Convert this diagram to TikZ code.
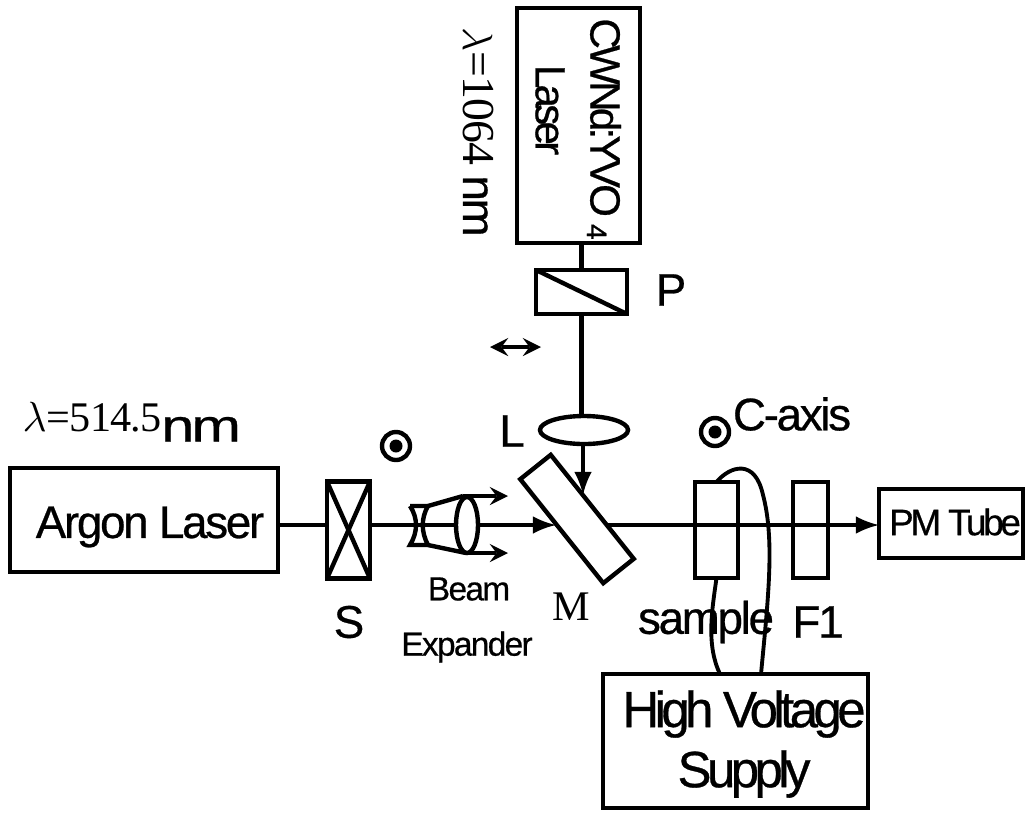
\documentclass[tikz,border=0pt]{standalone}
\usepackage{fontspec}
\setmainfont[LetterSpace=-5,FakeBold=0.6]{Liberation Sans}
\newfontfamily\tightfont[LetterSpace=-9,FakeBold=0.6]{Liberation Sans}
\newfontfamily\timesfont[LetterSpace=-2]{Liberation Serif}
\usetikzlibrary{shapes.geometric, arrows, positioning, fit, calc}

\tikzset{
    elem/.style={draw, line width=1.25pt, inner sep=0pt, outer sep=0pt},
    beam/.style={line width=1.25pt},
    wire/.style={line width=1.1pt},
    lbl/.style={inner sep=0pt, font=\fontsize{13}{15}\selectfont},
    biglbl/.style={inner sep=0pt, font=\fontsize{14.5}{16}\selectfont},
    smalllbl/.style={inner sep=0pt, font=\fontsize{9.5}{11}\selectfont},
    axisring/.style={draw, circle, line width=1.25pt, minimum size=28pt*0.2845, inner sep=0pt},
}

\begin{document}
\begin{tikzpicture}[x=0.01cm, y=-0.01cm]
    \useasboundingbox (0,0) rectangle (1025,812);

    % boxes
    \node[elem, minimum width=268*0.2845pt, minimum height=104*0.2845pt] (argon) at (144,520) {};
    \node[elem, minimum width=43*0.2845pt, minimum height=97*0.2845pt] (shutter) at (348.5,530) {};
    \node[elem, minimum width=123*0.2845pt, minimum height=235*0.2845pt] (ndlaser) at (578.5,125.5) {};
    \node[elem, minimum width=91*0.2845pt, minimum height=44*0.2845pt] (pol) at (581.5,292) {};
    \node[elem, ellipse, minimum width=88*0.2845pt, minimum height=28*0.2845pt] (lens) at (584,430) {};
    \node[elem, fill=white, rotate=-51.4, minimum width=133*0.2845pt, minimum height=39*0.2845pt] (mirror) at (577,519) {};
    \node[elem, minimum width=43*0.2845pt, minimum height=96*0.2845pt] (sample) at (716.5,530) {};
    \node[elem, minimum width=35*0.2845pt, minimum height=96*0.2845pt] (filter) at (810.5,530) {};
    \node[elem, minimum width=144*0.2845pt, minimum height=69*0.2845pt] (pmt) at (951,523.5) {};
    \node[elem, minimum width=265*0.2845pt, minimum height=134*0.2845pt] (hvs) at (735.5,741) {};
    \node[elem, ellipse, minimum width=22*0.2845pt, minimum height=56*0.2845pt] (convex) at (467,525) {};

    \draw[beam] (shutter.north west) -- (shutter.south east);
    \draw[beam] (shutter.north east) -- (shutter.south west);
    \draw[beam] (pol.north west) -- (pol.south east);

    % beam expander
    \draw[beam] (410,506) -- (428,506) .. controls (421,518) and (421,532) .. (428,545)
        -- (410,545) .. controls (418,532) and (418,518) .. (410,506);
    \coordinate (exptop) at (463,496);
    \coordinate (expbot) at (466,553);
    \draw[beam] (428,506) -- (exptop);
    \draw[beam] (428,545) -- (expbot);
    \coordinate (toptip) at (508,496);
    \coordinate (bottip) at (508,553);
    \draw[beam, -stealth] (exptop) -- (toptip);
    \draw[beam, -stealth] (expbot) -- (bottip);

    % beams
    \coordinate (expin) at (410,525);
    \coordinate (expmid) at (456,525);
    \coordinate (mirleft) at (556,525);
    \coordinate (mirright) at (608,525);
    \coordinate (mirtop) at (583,495);
    \draw[beam] (shutter.west |- expin) -- (argon.east |- expin);
    \draw[beam] (shutter.east |- expin) -- (expmid);
    \draw[beam, -latex] (convex.east |- expin) -- (mirleft);
    \draw[beam, -latex] (mirright) -- (pmt.west |- mirright);
    \draw[beam] (ndlaser.south -| pol) -- (pol);
    \draw[beam] (pol.south) -- (pol.south |- lens.north);
    \draw[beam, -latex] (lens.south -| mirtop) -- (mirtop);

    % polarisation marks
    \coordinate (polleft) at (490,347);
    \coordinate (polright) at (541,347);
    \draw[beam, stealth-stealth] (polleft) -- (polright);
    \node[axisring] (ringa) at (396,446) {};
    \fill (ringa) circle (6.5);
    \node[axisring] (ringb) at (715,432) {};
    \fill (ringb) circle (6.5);

    % leads to the supply
    \coordinate (hvsa) at (720,674);
    \coordinate (hvsb) at (761,674);
    \draw[wire] (sample.north) .. controls (730,466) and (755,458) .. (763,495)
        .. controls (775,540) and (768,600) .. (hvsb);
    \draw[wire] (sample.south) .. controls (712,610) and (706,645) .. (hvsa);

    % labels
    \node[lbl] (argontxt) at (150,527) {Argon Laser};
    \node[lbl] (ltxt) at (512,431) {L};
    \node[lbl] (ptxt) at (671,290) {P};
    \node[lbl] (stxt) at (349,622) {S};
    \node[lbl] (ftxt) at (818,622) {F1};
    \node[lbl] (caxis) at (792,414) {C-axis};
    \node[lbl] (sampletxt) at (706,622) {sample};
    \node[font=\timesfont\fontsize{12}{14}\selectfont, inner sep=0pt] (mtxt) at (571,607) {M};
    \node[smalllbl] (beamtxt) at (469,589) {Beam};
    \node[smalllbl] (exptxt) at (467,647) {Expander};
    \node[font=\tightfont\fontsize{10.5}{12}\selectfont, inner sep=0pt] (pmttxt) at (955,522) {PM Tube};
    \node[biglbl] (hvtxt) at (744,714) {\tightfont High Voltage};
    \node[biglbl] (suptxt) at (744,774) {\tightfont Supply};
    \node[font=\timesfont\fontsize{12}{14}\selectfont, inner sep=0pt, anchor=base west] (lamone) at (22,431) {$\lambda$=514.5\rmfamily\fontsize{13}{15}\selectfont\raisebox{-3pt}{\scalebox{1.3}[1]{nm}}};
    \node[font=\timesfont\fontsize{13}{15}\selectfont, inner sep=0pt, rotate=-90] (lamtwo) at (478,132) {$\lambda$=1064 {\rmfamily nm}};
    \node[font=\tightfont\fontsize{12}{14}\selectfont, inner sep=0pt, rotate=-90] (ndname) at (604,129) {CWNd:YVO\,\raisebox{-1pt}{\fontsize{8}{9}\selectfont 4}};
    \node[font=\tightfont\fontsize{12}{14}\selectfont, inner sep=0pt, rotate=-90] (ndlast) at (550,110) {Laser};
\end{tikzpicture}
\end{document}
